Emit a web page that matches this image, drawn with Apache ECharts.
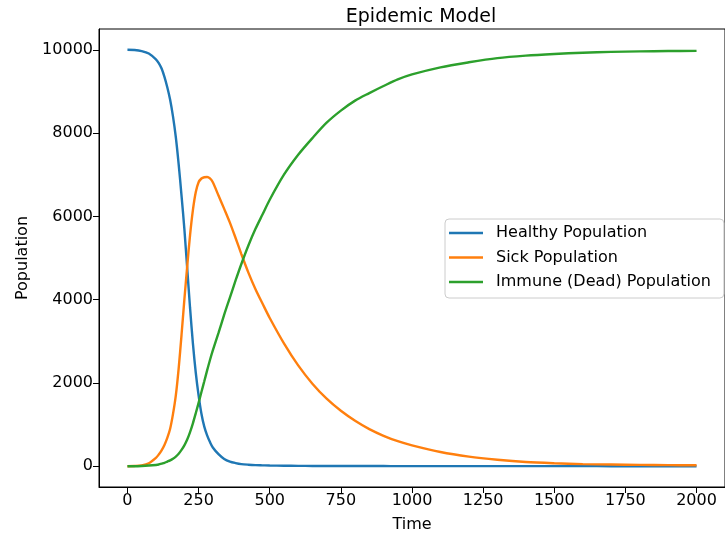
<!DOCTYPE html>
<html>
<head>
<meta charset="utf-8">
<title>Epidemic Model</title>
<script src="https://cdn.jsdelivr.net/npm/echarts@6/dist/echarts.min.js"></script>
<style>
  html, body { margin: 0; padding: 0; background: #fff; }
  #chart { width: 725px; height: 538px; }
</style>
</head>
<body>
<div id="chart"></div>
<script>
// time samples (shared by all three series)
const times = [0, 25, 50, 75,
    100, 110, 120, 130, 140, 150, 160, 170, 180, 190, 200, 210, 220, 230, 240, 250, 260, 270, 280, 290, 300,
    320, 340, 360, 380, 400, 425, 450, 475, 500,
    550, 600, 650, 700, 750, 800, 850, 900, 950, 1000,
    1100, 1200, 1300, 1400, 1500, 1600, 1700, 1800, 1900, 2000];

const healthy = [10000, 9995, 9970, 9910,
    9770, 9680, 9550, 9350, 9100, 8800, 8400, 7900, 7250, 6500, 5700, 4750, 3800, 2950, 2250, 1700, 1260, 950, 740, 580, 450,
    290, 175, 110, 75, 50, 35, 25, 20, 15,
    11, 8, 6, 5, 4, 4, 3, 3, 2, 2,
    2, 1, 1, 1, 1, 1, 0, 0, 0, 0];

const sick = [0, 5, 20, 70,
    200, 280, 380, 510, 680, 900, 1250, 1700, 2350, 3150, 4000, 4800, 5550, 6150, 6580, 6820, 6910, 6940, 6945, 6910, 6820,
    6500, 6180, 5850, 5480, 5100, 4650, 4250, 3900, 3560,
    2950, 2420, 1980, 1620, 1330, 1090, 890, 730, 600, 500,
    340, 230, 155, 100, 70, 50, 40, 32, 26, 22];

const immune = [0, 0, 5, 15,
    30, 40, 60, 80, 110, 140, 180, 230, 300, 390, 500, 640, 820, 1030, 1270, 1520, 1780, 2040, 2300, 2550, 2780,
    3200, 3640, 4050, 4460, 4850, 5300, 5700, 6050, 6400,
    7000, 7480, 7880, 8250, 8540, 8780, 8960, 9130, 9290, 9410,
    9580, 9700, 9800, 9860, 9900, 9930, 9950, 9962, 9970, 9975];

const seriesNames = ['Healthy Population', 'Sick Population', 'Immune (Dead) Population'];
const xTicks = [0, 250, 500, 750, 1000, 1250, 1500, 1750, 2000];
const yTicks = [0, 2000, 4000, 6000, 8000, 10000];

const colors = ['#1f77b4', '#ff7f0e', '#2ca02c'];
const FONT = 'DejaVu Sans';

function pairs(values) {
    return times.map((t, i) => [t, values[i]]);
}

const chart = echarts.init(document.getElementById('chart'));

const option = {
    animation: false,
    color: colors,
    textStyle: { fontFamily: FONT, color: '#000' },
    title: {
        text: 'Epidemic Model',
        left: 416,
        top: 3,
        textAlign: 'center',
        textStyle: { fontFamily: FONT, fontSize: 19, fontWeight: 'normal', color: '#000' }
    },
    grid: {
        left: 99,
        right: -8,
        top: 29,
        bottom: 51,
        show: true,
        borderColor: '#000',
        borderWidth: 1,
        backgroundColor: '#fff'
    },
    legend: {
        orient: 'vertical',
        left: 445,
        top: 219,
        icon: 'rect',
        itemWidth: 34,
        itemHeight: 2.4,
        itemGap: 8.5,
        padding: [6, 13, 8, 4],
        backgroundColor: 'rgba(255,255,255,0.8)',
        borderColor: '#cccccc',
        borderWidth: 1,
        borderRadius: 4,
        textStyle: { fontFamily: FONT, fontSize: 16, color: '#000', padding: [0, 0, 0, 8] },
        data: seriesNames
    },
    xAxis: {
        type: 'value',
        min: -100,
        max: 2100,
        name: 'Time',
        nameLocation: 'middle',
        nameGap: 30,
        nameTextStyle: { fontFamily: FONT, fontSize: 16, color: '#000' },
        axisLine: { show: true, onZero: false, lineStyle: { color: '#000', width: 1 } },
        axisTick: { show: true, length: 6, customValues: xTicks, lineStyle: { color: '#000' } },
        axisLabel: {
            customValues: xTicks, fontFamily: FONT, fontSize: 16, color: '#000', margin: 6,
            formatter: (v) => String(v)
        },
        splitLine: { show: false }
    },
    yAxis: {
        type: 'value',
        min: -500,
        max: 10500,
        name: 'Population',
        nameLocation: 'middle',
        nameGap: 68,
        nameTextStyle: { fontFamily: FONT, fontSize: 16, color: '#000' },
        axisLine: { show: true, onZero: false, lineStyle: { color: '#000', width: 1 } },
        axisTick: { show: true, length: 6, customValues: yTicks, lineStyle: { color: '#000' } },
        axisLabel: {
            customValues: yTicks, fontFamily: FONT, fontSize: 16, color: '#000', margin: 6,
            formatter: (v) => String(v)
        },
        splitLine: { show: false }
    },
    series: [healthy, sick, immune].map((vals, i) => ({
        name: seriesNames[i],
        type: 'line',
        data: pairs(vals),
        symbol: 'none',
        smooth: 0.3,
        lineStyle: { width: 2.4, color: colors[i] },
        itemStyle: { color: colors[i] }
    }))
};

chart.setOption(option);
</script>
</body>
</html>
